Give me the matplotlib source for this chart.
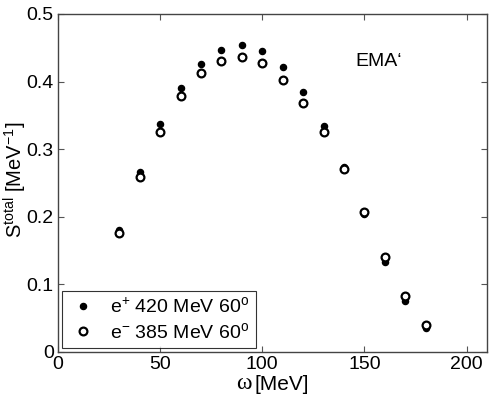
import matplotlib
matplotlib.use("Agg")
import matplotlib.pyplot as plt

plt.rcParams['font.family'] = ['Liberation Sans', 'DejaVu Sans']
plt.rcParams['mathtext.fontset'] = 'custom'
plt.rcParams['mathtext.rm'] = 'Liberation Sans'
plt.rcParams['mathtext.it'] = 'Liberation Sans'
plt.rcParams['mathtext.bf'] = 'Liberation Sans'

omega = [30, 40, 50, 60, 70, 80, 90, 100, 110, 120, 130, 140, 150, 160, 170, 180]
s_pos = [0.180, 0.266, 0.337, 0.390, 0.4265, 0.4467, 0.4536, 0.4457, 0.4215, 0.3845,
         0.335, 0.2744, 0.2048, 0.1338, 0.075, 0.035]
s_neg = [0.176, 0.2586, 0.326, 0.3786, 0.413, 0.431, 0.4363, 0.4274, 0.403, 0.368,
         0.3248, 0.271, 0.2078, 0.1407, 0.0824, 0.0405]
label_pos = r'e$^{+}$ 420 MeV 60$^{\mathrm{o}}$'
label_neg = r'e$^{-}$ 385 MeV 60$^{\mathrm{o}}$'
xticks = [0, 50, 100, 150, 200]
yticks = [0, 0.1, 0.2, 0.3, 0.4, 0.5]

fig = plt.figure(figsize=(4.91, 3.98), dpi=100)
ax = fig.add_axes([58/491, 46/398, 429/491, 338/398])

ax.plot(omega, s_pos, 'o', color='black', markersize=4.4, label=label_pos, zorder=3)
ax.plot(omega, s_neg, 'o', markerfacecolor='white', markeredgecolor='black',
        markeredgewidth=1.6, markersize=5.6, label=label_neg, zorder=4)

ax.set_xlim(0, 210)
ax.set_ylim(0, 0.5)
ax.set_xticks(xticks)
ax.set_xticklabels([str(t) for t in xticks])
ax.set_yticks(yticks)
ax.set_yticklabels(['0', '0.1', '0.2', '0.3', '0.4', '0.5'])
ax.tick_params(direction='in', top=True, right=True, labelsize=14, length=4,
               color='#555555', width=0.8, pad=3)
for sp in ax.spines.values():
    sp.set_color('#444444')
    sp.set_linewidth(1.0)

# x label: serif omega followed by sans text
fig.text(236/491, 4/398, 'ω', fontsize=17,
         fontfamily=['Liberation Serif', 'DejaVu Serif'], va='bottom', ha='left')
fig.text(255/491, 4/398, '[MeV]', fontsize=15, va='bottom', ha='left')

ax.set_ylabel(r'S$^{\mathrm{total}}$ [MeV$^{-1}$]', fontsize=14.5)
ax.yaxis.set_label_coords(-(58 - 29) / 429, (352 - 180) / 338)

ax.text(145.5, 0.429, 'EMA‘', fontsize=14, ha='left', va='center')

leg = ax.legend(loc='lower left', fontsize=14, frameon=True, fancybox=False,
                edgecolor='black', borderpad=0.3, handletextpad=0.6,
                labelspacing=0.3, borderaxespad=0.2, handlelength=1.6)
leg.get_frame().set_linewidth(0.8)

fig.savefig('out.png', dpi=100)
